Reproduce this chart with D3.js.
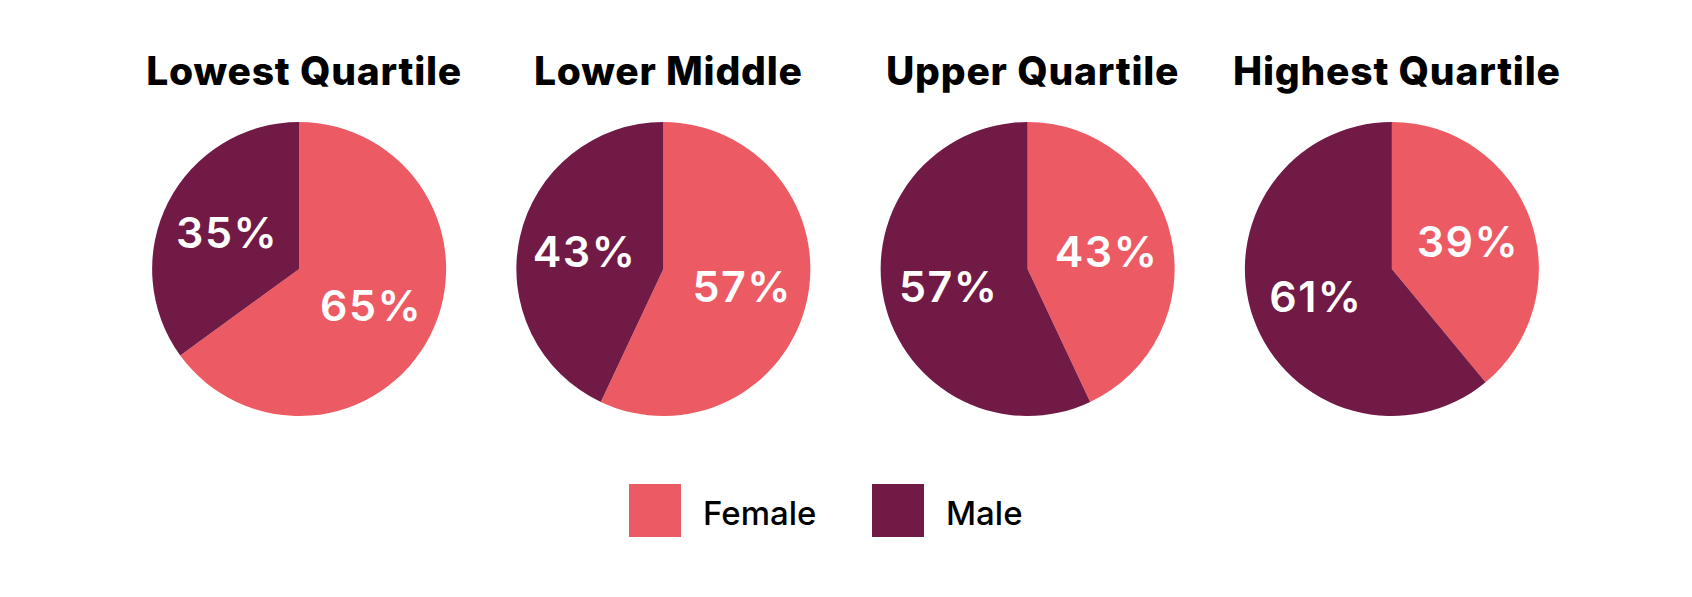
<!DOCTYPE html>
<html lang="en">
<head>
    <meta charset="UTF-8">
    <title>Gender by pay quartile</title>
    <script src="https://d3js.org/d3.v7.min.js"></script>
    <style>
        body { margin: 0; background: #fff; }
        text { font-family: Inter, Lato, sans-serif; }
    </style>
</head>
<body>
    <svg id="chart" width="1692" height="597"></svg>
    <script>
        // data
        const quartiles = ["Lowest Quartile", "Lower Middle", "Upper Quartile", "Highest Quartile"];
        const female = [65, 57, 43, 39];
        const male = [35, 43, 57, 61];
        const seriesNames = ["Female", "Male"];

        const width = 1692;
        const height = 597;
        const radius = 147;
        const centerY = 269;
        const colors = d3.scaleOrdinal().domain(seriesNames).range(["#EC5B63", "#711A45"]);

        const svg = d3.select('#chart');

        svg.append('rect')
            .attr('width', width)
            .attr('height', height)
            .attr('fill', '#fff');

        // one band per quartile, pie sits in the middle of each
        const xScale = d3.scaleBand()
            .domain(quartiles)
            .range([117, 1574]);

        const pie = d3.pie()
            .sort(null)
            .value(d => d.value);

        const arc = d3.arc()
            .innerRadius(0)
            .outerRadius(radius);

        const labelArc = d3.arc()
            .innerRadius(radius * 0.55)
            .outerRadius(radius * 0.55);

        quartiles.forEach((q, i) => {
            const slices = [
                { key: seriesNames[0], value: female[i] },
                { key: seriesNames[1], value: male[i] }
            ];
            const cx = xScale(q) + xScale.bandwidth() / 2;

            const g = svg.append('g')
                .attr('transform', `translate(${cx}, ${centerY})`);

            g.selectAll('path')
                .data(pie(slices))
                .enter().append('path')
                .attr('d', arc)
                .attr('fill', d => colors(d.data.key));

            g.selectAll('.label')
                .data(pie(slices))
                .enter().append('text')
                .attr('class', 'label')
                .attr('x', d => labelArc.centroid(d)[0])
                .attr('y', d => labelArc.centroid(d)[1])
                .attr('dy', '0.36em')
                .attr('text-anchor', 'middle')
                .attr('font-size', '43px')
                .attr('font-weight', 600)
                .attr('letter-spacing', '1.5px')
                .attr('fill', '#fff')
                .text(d => d.data.value + '%');

            // titles sit a touch right of the pie centre
            svg.append('text')
                .attr('x', cx + 5)
                .attr('y', 85)
                .attr('text-anchor', 'middle')
                .attr('font-size', '39px')
                .attr('font-weight', 800)
                .attr('letter-spacing', '0.8px')
                .attr('fill', '#000')
                .text(q);
        });

        // legend
        const legendX = d3.scalePoint()
            .domain(seriesNames)
            .range([629, 872]);

        const legend = svg.selectAll('.legend')
            .data(seriesNames)
            .enter().append('g')
            .attr('class', 'legend')
            .attr('transform', d => `translate(${legendX(d)}, 484)`);

        legend.append('rect')
            .attr('width', 52)
            .attr('height', 53)
            .attr('fill', d => colors(d));

        legend.append('text')
            .attr('x', 74)
            .attr('y', 41)
            .attr('font-size', '33px')
            .attr('font-weight', 500)
            .attr('fill', '#000')
            .text(d => d);
    </script>
</body>
</html>
